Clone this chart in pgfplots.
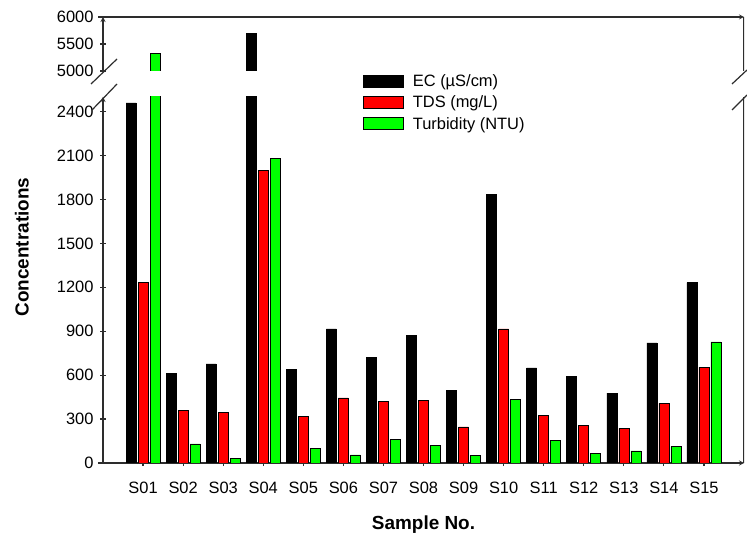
\documentclass[border=0pt]{standalone}
\usepackage{fontspec}
\setmainfont{Liberation Sans}
\usepackage{pgfplots}
\pgfplotsset{compat=1.18}
\usepackage{pgfplotstable}
\definecolor{tdsc}{RGB}{255,0,0}
\definecolor{turc}{RGB}{0,255,0}
\definecolor{axc}{RGB}{45,45,45}

\pgfplotstableread{
x  EC    TDS   Turb
1  2459  1235  5330
2  613   358   130
3  677   344   32
4  5700  2000  2083
5  642   317   98
6  916   444   55
7  722   419   162
8  870   428   121
9  494   246   50
10 1836  916   437
11 649   323   157
12 592   258   66
13 478   237   82
14 820   408   114
15 1232  654   827
}\datatable

\pgfplotsset{
  brk/.style={
    scale only axis, width=641bp,
    xmin=0, xmax=16,
    ybar=2bp, bar width=10bp,
    axis line style={axc, line width=1.2bp, -},
    tick style={axc, line width=1.2bp},
    major tick length=6bp,
    tick align=outside,
    ticklabel style={font=\fontsize{16.5}{18}\selectfont, text=black},
    yticklabel style={xshift=-3bp},
    /pgf/number format/assume math mode=true,
    /pgf/number format/1000 sep={},
    legend image code/.code={\path[draw=none,fill=none] (0bp,-10.65bp) rectangle (49.3bp,10.65bp);
      \draw[##1, line width=0.8bp, draw=black] (0bp,-6bp) rectangle (40bp,6bp);},
  },
  ecs/.style={fill=black, draw=black, line width=0.6bp},
  tdss/.style={fill=tdsc, draw=black, line width=0.6bp},
  turs/.style={fill=turc, draw=black, line width=0.6bp},
}

\begin{document}
\begin{tikzpicture}[x=1bp,y=1bp]
% lower part
\begin{axis}[brk, at={(103bp,78bp)}, anchor=south west, height=366bp,
  ymin=0, ymax=2500, ytick={0,300,...,2400},
  axis x line=bottom, axis y line=left,
  x axis line style={shorten <=-5bp},
  xtick={1,...,15},
  xticklabels={S01,S02,S03,S04,S05,S06,S07,S08,S09,S10,S11,S12,S13,S14,S15},
  xticklabel style={yshift=-13bp},
  xlabel={Sample No.},
  xlabel style={font=\bfseries\fontsize{19}{22}\selectfont, at={(axis description cs:0.5,0)}, anchor=center, yshift=-62bp},
  ylabel={Concentrations},
  ylabel style={font=\bfseries\fontsize{19}{22}\selectfont, at={(axis description cs:-0.1264,0.59)}, anchor=center},
  legend cell align=left,
  legend style={at={(axis description cs:0.4056,1.0728)}, anchor=north west,
    draw=none, fill=none, inner sep=0pt, row sep=0pt,
    nodes={inner sep=0pt}, font=\fontsize{16.5}{18}\selectfont},
]
\addplot[ecs] table[x=x,y=EC] {\datatable};
\addlegendentry{EC (µS/cm)}
\addplot[tdss] table[x=x,y=TDS] {\datatable};
\addlegendentry{TDS (mg/L)}
\addplot[turs] table[x=x,y=Turb] {\datatable};
\addlegendentry{Turbidity (NTU)}
\draw[axc, line width=1.2bp] (rel axis cs:1,0) -- (rel axis cs:1,1);
\end{axis}
% upper part
\begin{axis}[brk, at={(103bp,470bp)}, anchor=south west, height=54bp,
  ymin=5000, ymax=6000, ytick={5000,5500,6000},
  axis x line=top, axis y line=left, xtick=\empty,
  x axis line style={shorten <=-5bp},
  restrict y to domain=5000:10000,
]
\addplot[ecs] table[x=x,y=EC] {\datatable};
\addplot[tdss] table[x=x,y=TDS] {\datatable};
\addplot[turs] table[x=x,y=Turb] {\datatable};
\draw[axc, line width=1.2bp] (rel axis cs:1,0) -- (rel axis cs:1,1);
\end{axis}
% break marks
\draw[axc, line width=1.2bp] (91,457) -- (117,482);
\draw[axc, line width=1.2bp] (92,431) -- (117,457);
\draw[axc, line width=1.2bp] (732,457) -- (747,471);
\draw[axc, line width=1.2bp] (732,431) -- (747,446);
\pgfresetboundingbox
\useasboundingbox (0,0) rectangle (747bp,541bp);
\end{tikzpicture}
\end{document}
